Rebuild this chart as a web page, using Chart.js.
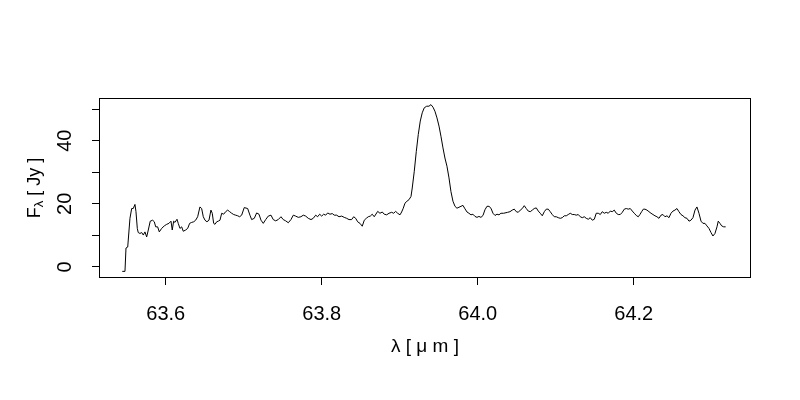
<!DOCTYPE html>
<html>
<head>
<meta charset="utf-8">
<script src="https://cdn.jsdelivr.net/npm/chart.js@4"></script>
<style>
  html, body { margin: 0; padding: 0; background: #fff; }
  #wrap { width: 800px; height: 400px; }
</style>
</head>
<body>
<div id="wrap"><canvas id="spectrum" width="800" height="400"></canvas></div>
<script>
// wavelength in micron, flux in Jy
const wavelength = [
  63.5442, 63.5477, 63.5490, 63.5512, 63.5541, 63.5563, 63.5583, 63.5605, 63.5618, 63.5635,
  63.5647, 63.5669, 63.5691, 63.5712, 63.5733, 63.5755, 63.5776, 63.5801, 63.5832, 63.5853,
  63.5871, 63.5896, 63.5917, 63.5947, 63.5981, 63.6012, 63.6041, 63.6067, 63.6083, 63.6101,
  63.6118, 63.6144, 63.6160, 63.6182, 63.6204, 63.6224, 63.6255, 63.6281, 63.6306, 63.6332,
  63.6358, 63.6383, 63.6409, 63.6438, 63.6460, 63.6481, 63.6503, 63.6528, 63.6554, 63.6579,
  63.6596, 63.6614, 63.6631, 63.6653, 63.6673, 63.6695, 63.6717, 63.6742, 63.6768, 63.6794,
  63.6819, 63.6845, 63.6871, 63.6896, 63.6922, 63.6947, 63.6973, 63.7006,
  63.7050, 63.7079, 63.7101, 63.7135, 63.7165, 63.7195, 63.7221, 63.7250, 63.7281, 63.7314,
  63.7349, 63.7378, 63.7409, 63.7442, 63.7477, 63.7506, 63.7537, 63.7571, 63.7605, 63.7635,
  63.7665, 63.7699, 63.7733, 63.7763, 63.7794, 63.7827, 63.7862, 63.7891, 63.7922, 63.7947,
  63.7973, 63.7999, 63.8024, 63.8050, 63.8076, 63.8105, 63.8135, 63.8160, 63.8191, 63.8221,
  63.8255, 63.8288, 63.8319, 63.8349, 63.8383, 63.8409, 63.8435, 63.8460, 63.8490, 63.8519,
  63.8545, 63.8571, 63.8596, 63.8622, 63.8647, 63.8673,
  63.8717, 63.8746, 63.8776, 63.8801, 63.8832, 63.8862, 63.8896, 63.8922, 63.8947, 63.8973,
  63.9003, 63.9024, 63.9045, 63.9067, 63.9092, 63.9118, 63.9144, 63.9160, 63.9186, 63.9212,
  63.9237, 63.9263, 63.9288, 63.9314, 63.9345, 63.9374, 63.9400, 63.9426, 63.9451, 63.9477,
  63.9503, 63.9528, 63.9554, 63.9579, 63.9605, 63.9631, 63.9656, 63.9682, 63.9708, 63.9733,
  63.9759, 63.9785, 63.9810, 63.9836, 63.9862, 63.9887, 63.9913, 63.9938, 63.9964, 63.9990,
  64.0015, 64.0041, 64.0067, 64.0092, 64.0118, 64.0144, 64.0169, 64.0195, 64.0221, 64.0246,
  64.0272, 64.0297, 64.0332,
  64.0383, 64.0413, 64.0442, 64.0468, 64.0494, 64.0519, 64.0545, 64.0571, 64.0596, 64.0622,
  64.0647, 64.0673, 64.0699, 64.0724, 64.0750, 64.0776, 64.0801, 64.0827, 64.0853, 64.0878,
  64.0904, 64.0929, 64.0955, 64.0981, 64.1006, 64.1032, 64.1058, 64.1083, 64.1109, 64.1135,
  64.1160, 64.1186, 64.1212, 64.1237, 64.1263, 64.1288, 64.1314, 64.1340, 64.1365, 64.1391,
  64.1417, 64.1442, 64.1468, 64.1494, 64.1519, 64.1545, 64.1571, 64.1596, 64.1622, 64.1647,
  64.1673, 64.1699, 64.1724, 64.1750, 64.1776, 64.1801, 64.1827, 64.1853, 64.1878, 64.1904,
  64.1929, 64.1955, 64.1981, 64.2006,
  64.2037, 64.2058, 64.2079, 64.2101, 64.2122, 64.2144, 64.2169, 64.2195, 64.2221, 64.2246,
  64.2272, 64.2297, 64.2323, 64.2349, 64.2374, 64.2400, 64.2426, 64.2451, 64.2477, 64.2503,
  64.2528, 64.2554, 64.2579, 64.2605, 64.2631, 64.2656, 64.2682, 64.2708, 64.2733, 64.2759,
  64.2785, 64.2810, 64.2836, 64.2862, 64.2887, 64.2913, 64.2938, 64.2964, 64.2990, 64.3015,
  64.3041, 64.3067, 64.3083, 64.3105, 64.3127, 64.3153, 64.3178
];

const flux = [
  -1.4, -1.4, 6.0, 6.3, 15.4, 18.5, 18.5, 19.8, 17.5, 12.2,
  10.9, 10.6, 10.9, 10.1, 11.1, 9.5, 11.7, 14.5, 14.8, 14.3,
  12.7, 12.7, 11.1, 12.2, 13.0, 13.5, 13.8, 14.5, 11.7, 14.5,
  14.1, 15.1, 13.8, 12.2, 12.7, 11.3, 11.7, 12.2, 13.8, 14.1,
  14.3, 14.8, 15.9, 19.0, 18.5, 15.9, 14.8, 14.3, 14.8, 18.0,
  17.0, 13.8, 13.5, 14.3, 14.5, 14.8, 17.0, 16.7, 17.5, 18.0,
  17.5, 17.0, 16.6, 16.4, 16.2, 15.9, 16.4, 18.8,
  18.5, 16.4, 15.0, 15.4, 17.1, 16.7, 14.8, 13.8, 15.0, 16.1,
  16.4, 15.0, 14.6, 15.0, 15.9, 15.0, 14.6, 14.0, 15.0, 16.4,
  16.1, 15.7, 15.9, 16.4, 16.1, 15.4, 15.0, 15.4, 16.4, 15.9,
  16.7, 16.1, 16.7, 16.4, 17.1, 16.7, 16.9, 16.4, 16.4, 15.9,
  16.1, 15.7, 15.4, 15.0, 15.0, 15.9, 15.4, 14.3, 13.8, 12.9,
  14.8, 15.4, 15.9, 16.1, 16.7, 15.9,
  17.6, 17.0, 17.4, 16.7, 16.5, 17.0, 17.3, 17.0, 17.6, 17.0,
  16.5, 17.4, 18.6, 20.2, 20.8, 21.3, 22.3, 25.0, 30.3, 36.6,
  41.9, 46.2, 48.8, 50.4, 50.9, 50.9, 51.4, 50.6, 49.3, 47.2,
  44.6, 41.4, 37.7, 34.5, 31.9, 28.2, 23.9, 20.8, 19.2, 18.6,
  18.9, 19.2, 19.5, 18.4, 17.4, 17.0, 16.5, 16.7, 16.0, 15.7,
  16.0, 15.7, 16.3, 18.1, 19.2, 19.2, 18.6, 17.0, 16.3, 16.7,
  16.5, 17.0, 17.0,
  17.3, 17.5, 18.0, 18.3, 17.5, 17.3, 18.0, 18.5, 19.4, 18.5,
  17.7, 17.5, 18.0, 18.5, 18.7, 17.7, 17.0, 16.2, 17.5, 18.3,
  18.3, 17.5, 16.6, 15.9, 15.9, 15.6, 15.4, 15.6, 16.2, 16.2,
  16.6, 17.0, 16.6, 16.6, 16.4, 16.6, 15.9, 15.6, 15.9, 15.4,
  15.1, 15.6, 14.8, 15.1, 17.0, 17.0, 16.6, 17.5, 17.0, 17.3,
  17.0, 17.7, 17.5, 18.0, 17.0, 16.6, 16.6, 17.3, 18.3, 18.5,
  18.3, 18.5, 17.7, 17.0,
  16.2, 15.9, 16.6, 17.5, 18.3, 18.3, 18.0, 17.5, 17.0, 16.6,
  16.2, 15.9, 15.4, 16.4, 16.6, 15.9, 16.2, 15.6, 17.0, 17.7,
  18.0, 18.5, 17.5, 16.6, 16.2, 15.6, 15.4, 14.5, 14.8, 15.6,
  18.0, 19.0, 17.0, 14.5, 13.8, 13.8, 13.0, 12.2, 10.9, 9.8,
  10.6, 12.7, 14.5, 13.8, 13.0, 12.7, 12.7
];

const xTitle = "λ [ μ m ]";
const yTitleParts = ["F", "λ", " [ Jy ]"];

const FONT = '"Liberation Sans", Arial, Helvetica, sans-serif';
Chart.defaults.font.family = FONT;
Chart.defaults.font.size = 20;
Chart.defaults.color = "#000";

// R-style box round the plot region + y label with subscript
const boxPlugin = {
  id: "rbox",
  afterDraw(chart) {
    const { ctx, chartArea: a } = chart;
    ctx.save();
    ctx.strokeStyle = "#000";
    ctx.lineWidth = 1;
    ctx.strokeRect(a.left + 0.5, a.top + 0.5, a.right - a.left - 1, a.bottom - a.top - 1);

    const cy = (a.top + a.bottom) / 2;
    ctx.translate(35, cy);
    ctx.rotate(-Math.PI / 2);
    ctx.fillStyle = "#000";
    ctx.textBaseline = "middle";
    ctx.textAlign = "left";
    const big = "18px " + FONT;
    const small = "13px " + FONT;
    ctx.font = big;
    const wF = ctx.measureText(yTitleParts[0]).width;
    const wRest = ctx.measureText(yTitleParts[2]).width;
    ctx.font = small;
    const wL = ctx.measureText(yTitleParts[1]).width;
    let x0 = -(wF + wL + wRest) / 2;
    ctx.font = big;
    ctx.fillText(yTitleParts[0], x0, 0);
    ctx.font = small;
    ctx.fillText(yTitleParts[1], x0 + wF, 4);
    ctx.font = big;
    ctx.fillText(yTitleParts[2], x0 + wF + wL, 0);
    ctx.restore();
  }
};

new Chart(document.getElementById("spectrum"), {
  type: "scatter",
  data: {
    datasets: [{
      data: wavelength.map((w, i) => ({ x: w, y: flux[i] })),
      showLine: true,
      borderColor: "#000",
      borderWidth: 1,
      pointRadius: 0,
      tension: 0
    }]
  },
  options: {
    responsive: false,
    animation: false,
    devicePixelRatio: 1,
    layout: { padding: { top: 98, right: 49, left: 0, bottom: 0 } },
    plugins: { legend: { display: false }, tooltip: { enabled: false } },
    scales: {
      x: {
        type: "linear",
        min: 63.5144,
        max: 64.3503,
        afterFit: s => { s.height = 122; },
        border: { display: false },
        grid: { drawOnChartArea: false, tickLength: 7, color: "#000" },
        ticks: {
          stepSize: 0.2,
          includeBounds: false,
          padding: 17,
          maxRotation: 0,
          callback: v => v.toFixed(1)
        },
        title: {
          display: true,
          text: xTitle,
          font: { size: 19 },
          padding: { top: 0, bottom: 42 }
        }
      },
      y: {
        min: -3.5,
        max: 53.5,
        afterFit: s => { s.width = 99; },
        border: { display: false },
        grid: { drawOnChartArea: false, tickLength: 7, color: "#000" },
        ticks: {
          stepSize: 10,
          includeBounds: false,
          minRotation: 90,
          maxRotation: 90,
          crossAlign: "center",
          padding: 15,
          callback: v => (Math.round(v) % 20 === 0 ? String(Math.round(v)) : "")
        }
      }
    }
  },
  plugins: [boxPlugin]
});
</script>
</body>
</html>
